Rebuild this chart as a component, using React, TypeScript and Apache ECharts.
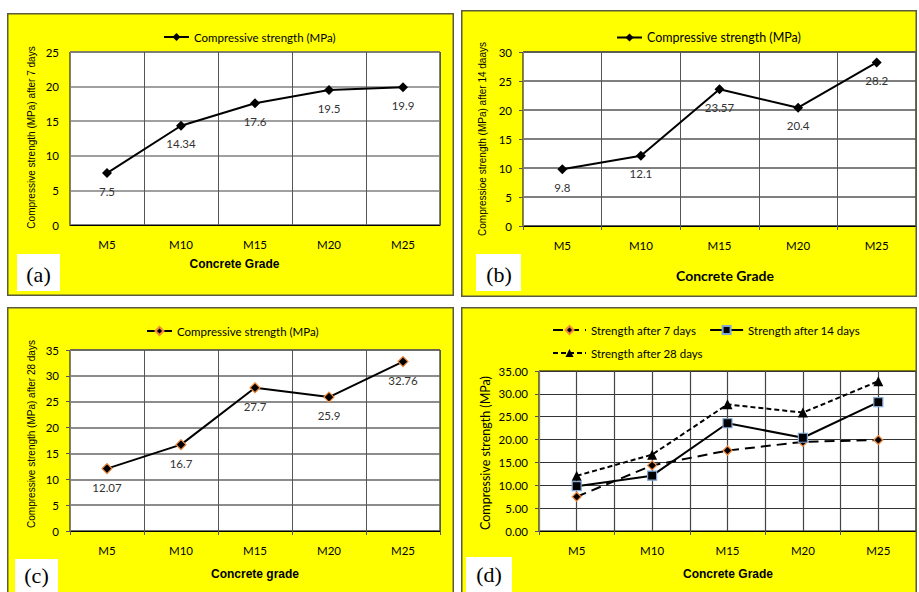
import React, { useEffect, useRef } from "react";
import * as echarts from "echarts";

const grades = ["M5", "M10", "M15", "M20", "M25"];
const days7 = [7.5, 14.34, 17.6, 19.5, 19.9];
const days14 = [9.8, 12.1, 23.57, 20.4, 28.2];
const days28 = [12.07, 16.7, 27.7, 25.9, 32.76];
const halfGridTicks = [0, 10];

const calib = 'Lato, "Open Sans", sans-serif';
const narrow = '"Liberation Sans Narrow", "Arial Narrow", "Liberation Sans", sans-serif';
const arial = '"Liberation Sans", Arial, sans-serif';
const serif = '"Liberation Serif", "Times New Roman", serif';

const seriesName = "Compressive strength (MPa)";

type PanelCfg = {
  left: number;
  top: number;
  width: number;
  height: number;
  option: any;
};

function frame(w: number, h: number, yTitle: any, xTitle: any, box: any) {
  return [
    {
      type: "rect",
      z: 100,
      shape: { x: 0.75, y: 0.75, width: w - 1.5, height: h - 1.5 },
      style: { fill: "none", stroke: "#5a5a3c", lineWidth: 1.5 },
    },
    {
      type: "text",
      x: yTitle.x,
      y: yTitle.y,
      rotation: Math.PI / 2,
      style: {
        text: yTitle.text,
        fontFamily: yTitle.font,
        fontSize: yTitle.size,
        fill: "#000",
        align: "center",
        verticalAlign: "middle",
      },
    },
    {
      type: "text",
      x: xTitle.x,
      y: xTitle.y,
      style: {
        text: xTitle.text,
        fontFamily: xTitle.font,
        fontSize: xTitle.size,
        fontWeight: "bold",
        fill: "#000",
        align: "center",
        verticalAlign: "middle",
      },
    },
    {
      type: "rect",
      shape: { x: box.x, y: box.y, width: box.w, height: box.h },
      style: { fill: "#fff" },
    },
    {
      type: "text",
      x: box.tx,
      y: box.ty,
      style: {
        text: box.text,
        fontFamily: serif,
        fontSize: 22,
        fill: "#000",
        align: "center",
        verticalAlign: "middle",
      },
    },
  ];
}

function singleOption(opts: {
  w: number;
  h: number;
  grid: any;
  legendLeft: number;
  legendTop: number;
  legendSize: number;
  max: number;
  data: number[];
  border?: string;
  ticks: boolean;
  yTitle: any;
  xTitle: any;
  box: any;
  hColor: string;
}) {
  return {
    animation: false,
    backgroundColor: "#ffff00",
    grid: {
      ...opts.grid,
      show: true,
      backgroundColor: "#fff",
      borderColor: "#000",
      borderWidth: 1,
    },
    legend: {
      left: opts.legendLeft,
      top: opts.legendTop,
      itemWidth: 25,
      itemHeight: 10,
      textStyle: { fontFamily: calib, fontSize: opts.legendSize, color: "#000" },
      data: [seriesName],
    },
    xAxis: {
      type: "category",
      data: grades,
      boundaryGap: true,
      axisLine: { lineStyle: { color: "#000", width: 1 } },
      axisTick: { show: opts.ticks, length: 4, lineStyle: { color: "#555" } },
      axisLabel: { margin: 13, fontFamily: calib, fontSize: 11.5, color: "#000" },
      splitLine: { show: true, lineStyle: { color: "#555", width: 1 } },
    },
    yAxis: {
      type: "value",
      min: 0,
      max: opts.max,
      interval: 5,
      axisLine: { show: true, lineStyle: { color: "#808080" } },
      axisTick: { show: opts.ticks, length: 4, lineStyle: { color: "#555" } },
      axisLabel: { margin: 11, fontFamily: calib, fontSize: 11.5, color: "#000" },
      splitLine: { show: true, lineStyle: { color: opts.hColor, width: 1.5 } },
    },
    series: [
      {
        type: "line",
        name: seriesName,
        data: opts.data,
        symbol: "diamond",
        symbolSize: 10,
        lineStyle: { color: "#000", width: 2 },
        itemStyle: {
          color: "#000",
          borderColor: opts.border || "#000",
          borderWidth: opts.border ? 1.2 : 0,
        },
        label: {
          show: true,
          position: "bottom",
          distance: 7,
          color: "#333",
          fontFamily: calib,
          fontSize: 11.5,
        },
      },
    ],
    graphic: frame(opts.w, opts.h, opts.yTitle, opts.xTitle, opts.box),
  };
}

const panelA: PanelCfg = {
  left: 7,
  top: 13,
  width: 447,
  height: 283,
  option: singleOption({
    w: 447,
    h: 283,
    grid: { left: 63, top: 39, width: 370, height: 173 },
    legendLeft: 151,
    legendTop: 13,
    legendSize: 11.5,
    max: 25,
    data: days7,
    ticks: false,
    hColor: "#808080",
    yTitle: { x: 24, y: 124.5, text: "Compressive strength (MPa) after 7 days", font: narrow, size: 10 },
    xTitle: { x: 227.5, y: 251, text: "Concrete Grade", font: arial, size: 12 },
    box: { x: 10, y: 241, w: 43, h: 37, tx: 31.5, ty: 261, text: "(a)" },
  }),
};

const panelB: PanelCfg = {
  left: 461,
  top: 10,
  width: 456,
  height: 287,
  option: singleOption({
    w: 456,
    h: 287,
    grid: { left: 62, top: 42, width: 393, height: 174 },
    legendLeft: 150,
    legendTop: 16,
    legendSize: 12.5,
    max: 30,
    data: days14,
    ticks: true,
    hColor: "#555",
    yTitle: { x: 21, y: 129, text: "Compressioe strength (MPa) after 14 daays", font: narrow, size: 10 },
    xTitle: { x: 264, y: 265, text: "Concrete Grade", font: calib, size: 14 },
    box: { x: 15, y: 244, w: 45, h: 37, tx: 38, ty: 264, text: "(b)" },
  }),
};

const panelC: PanelCfg = {
  left: 7,
  top: 307,
  width: 447,
  height: 285,
  option: singleOption({
    w: 447,
    h: 300,
    grid: { left: 63, top: 43, width: 370, height: 181 },
    legendLeft: 134,
    legendTop: 13,
    legendSize: 11.5,
    max: 35,
    data: days28,
    border: "#f08a3c",
    ticks: true,
    hColor: "#666",
    yTitle: { x: 24, y: 127, text: "Compressive strength (MPa) after 28 days", font: narrow, size: 10 },
    xTitle: { x: 248, y: 267, text: "Concrete grade", font: arial, size: 12 },
    box: { x: 8, y: 252, w: 43, h: 40, tx: 29.5, ty: 268, text: "(c)" },
  }),
};

const dOption = {
  animation: false,
  backgroundColor: "#ffff00",
  grid: {
    left: 78,
    top: 64,
    width: 377,
    height: 160,
    show: true,
    backgroundColor: "#fff",
    borderColor: "#000",
    borderWidth: 1,
  },
  legend: [
    {
      left: 86,
      top: 12,
      itemWidth: 33,
      itemHeight: 10,
      itemGap: 13,
      textStyle: { fontFamily: calib, fontSize: 11.5, color: "#000" },
      data: ["Strength after 7 days", "Strength after 14 days"],
    },
    {
      left: 86,
      top: 35,
      itemWidth: 33,
      itemHeight: 10,
      textStyle: { fontFamily: calib, fontSize: 11.5, color: "#000" },
      data: ["Strength after 28 days"],
    },
  ],
  xAxis: [
    {
      type: "category",
      data: grades,
      boundaryGap: true,
      axisLine: { lineStyle: { color: "#000", width: 1 } },
      axisTick: { show: true, length: 4, lineStyle: { color: "#555" } },
      axisLabel: { margin: 13, fontFamily: calib, fontSize: 11.5, color: "#000" },
      splitLine: { show: false },
    },
    {
      type: "value",
      min: halfGridTicks[0],
      max: halfGridTicks[1],
      interval: 1,
      position: "top",
      axisLine: { show: false },
      axisTick: { show: false },
      axisLabel: { show: false },
      splitLine: { show: true, lineStyle: { color: "#444", width: 1.2 } },
    },
  ],
  yAxis: {
    type: "value",
    min: 0,
    max: 35,
    interval: 5,
    axisLine: { show: true, lineStyle: { color: "#808080" } },
    axisTick: { show: true, length: 4, lineStyle: { color: "#555" } },
    axisLabel: {
      margin: 11,
      fontFamily: calib,
      fontSize: 11.5,
      color: "#000",
      formatter: (v: number) => v.toFixed(2),
    },
    splitLine: { show: true, lineStyle: { color: "#333", width: 1.2 } },
  },
  series: [
    {
      type: "line",
      name: "Strength after 7 days",
      data: days7,
      symbol: "diamond",
      symbolSize: 9,
      lineStyle: { color: "#000", width: 2, type: [10, 6] },
      itemStyle: { color: "#000", borderColor: "#f08a3c", borderWidth: 1.2 },
      z: 3,
    },
    {
      type: "line",
      name: "Strength after 14 days",
      data: days14,
      symbol: "rect",
      symbolSize: 9,
      lineStyle: { color: "#000", width: 2 },
      itemStyle: { color: "#000", borderColor: "#7fa6d6", borderWidth: 1.2 },
      z: 4,
    },
    {
      type: "line",
      name: "Strength after 28 days",
      data: days28,
      symbol: "triangle",
      symbolSize: 10,
      lineStyle: { color: "#000", width: 2, type: [5, 3] },
      itemStyle: { color: "#000" },
      z: 5,
    },
  ],
  graphic: frame(
    456,
    300,
    { x: 24, y: 146, text: "Compressive strength (MPa)", font: calib, size: 12.5 },
    { x: 267, y: 267, text: "Concrete Grade", font: arial, size: 12 },
    { x: 5, y: 250, w: 46, h: 40, tx: 28, ty: 267, text: "(d)" }
  ),
};

const panelD: PanelCfg = {
  left: 461,
  top: 307,
  width: 456,
  height: 285,
  option: dOption,
};

function Panel({ cfg }: { cfg: PanelCfg }) {
  const ref = useRef<HTMLDivElement>(null);
  useEffect(() => {
    if (!ref.current) return;
    const chart = echarts.init(ref.current, null, { renderer: "svg" });
    chart.setOption(cfg.option);
    return () => chart.dispose();
  }, [cfg]);
  return (
    <div
      ref={ref}
      style={{
        position: "absolute",
        left: cfg.left,
        top: cfg.top,
        width: cfg.width,
        height: cfg.height,
      }}
    />
  );
}

export default function App() {
  return (
    <div
      style={{
        position: "fixed",
        left: 0,
        top: 0,
        width: 919,
        height: 592,
        background: "#fff",
        overflow: "hidden",
      }}
    >
      <Panel cfg={panelA} />
      <Panel cfg={panelB} />
      <Panel cfg={panelC} />
      <Panel cfg={panelD} />
    </div>
  );
}
